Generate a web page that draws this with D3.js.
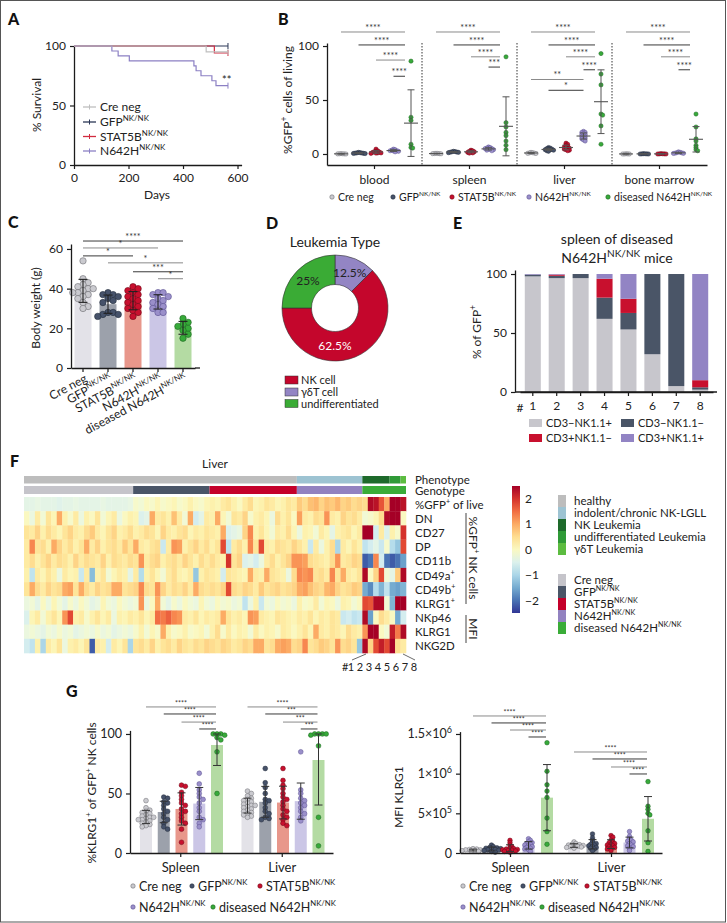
<!DOCTYPE html>
<html><head><meta charset="utf-8">
<script src="https://cdn.jsdelivr.net/npm/d3@7"></script>
<style>body{margin:0;background:#fff}svg{display:block}</style>
</head><body>
<script>
// ================= DATA =================
const genotypes = ["Cre neg","GFP","STAT5B","N642H","diseased N642H"];
const genoLabels = [["Cre neg"],["GFP","^NK/NK"],["STAT5B","^NK/NK"],["N642H","^NK/NK"],["diseased N642H","^NK/NK"]];

// A: Kaplan-Meier survival (days of events, % surviving after event)
const survCreDays=[0,485,565], survCrePct=[100,95,95];
const survGfpDays=[0,565], survGfpPct=[100,100];
const survStatDays=[0,515,565], survStatPct=[100,94.1,94.1];
const survMutDays=[0,139,162,203,440,448,466,506,521,565];
const survMutPct=[100,95.8,91.7,87.5,83.3,79.2,75,70.8,66.7,66.7];

// B: %GFP+ cells of living, per tissue, per genotype
const bTissues=["blood","spleen","liver","bone marrow"];
const bBlood=[[0.1,0.2,0,0.3,0.1,0.2],[0.5,1,0.8,1.2,0.6,0.9,1.5,0.4],[1,2,4.5,1.5,0.8,2.5,1,3,0.5,1.8],[3,2.5,4,3.5,2,4.5,3,2.8],[86,31,34,9,5.5,6]];
const bSpleen=[[0.3,0.5,0.2,0.4,0.6,0.3],[1.5,2,1.8,2.5,1.2,2.2,1.6],[1.5,2,3,1,2.5,0.8,1.8,3.5],[4,5,6,4.5,5.5,3.5,6.5,5,4.2,3],[90,29,25,20,17,12,8,4]];
const bLiver=[[1,0.5,1.5,0.8,1.2,0.6],[3,4,5,3.5,4.5,2.5,5.5,3.8,4.2,6],[4,6,8,10,5,3,7,5.5,9,4.5,6.5,3.5],[12,14,16,18,20,21,15,17,13,19,16,18,14,20],[93,74,64,36,37,26,9]];
const bMarrow=[[0,0.1,0,0.2,0],[0,0.1,0.2,0,0.1,0.3],[0,0.1,0.2,0.1,0,0.3],[0.5,1,1.5,0.8,1.2,2,0.6],[37,25,14,12,8,6,4,3]];
// significance: [tissue, fromGroup, toGroup, level value, label]
const bSig=[[0,0,4,113,"****"],[0,1,4,101,"****"],[0,2,4,87,"****"],[0,3,4,72,"****"],
 [1,0,4,113,"****"],[1,1,4,101,"****"],[1,2,4,90,"****"],[1,3,4,80.5,"***"],
 [2,0,4,113,"****"],[2,1,4,101,"****"],[2,2,4,90,"****"],[2,3,4,78,"****"],[2,0,3,69,"**"],[2,1,3,59,"*"],
 [3,0,4,113,"****"],[3,1,4,101,"****"],[3,2,4,90,"****"],[3,3,4,78,"****"]];

// C: body weight (g)
const cWeight=[[54,45,43,42,41,40,40,39,38,38,37,36,35,33,31,30],
 [38,37,37,36,35,34,33,28,28,27,27,26],
 [41,40,39,38,37,36,35,34,33,32,31,30,29,28,26],
 [38,38,37,36,35,34,33,32,31,30,28,28],
 [25,23,22,21,20,19,17,15]];
const cSig=[[0,4,64,"****"],[0,3,60.5,"*"],[0,2,56.5,"*"],[1,4,53,"*"],[2,4,48.5,"***"],[3,4,45,"*"]];

// D: leukemia type
const dTypes=["NK cell","γδT cell","undifferentiated"];
const dPercent=[62.5,12.5,25];

// E: spleen of diseased mice, % of GFP+
const eMice=["1","2","3","4","5","6","7","8"];
const eCats=["CD3−NK1.1+","CD3−NK1.1−","CD3+NK1.1−","CD3+NK1.1+"];
const eCD3negNK11pos=[98,96.5,96.5,62,53,32,5,2];
const eCD3negNK11neg=[1.5,2,3.5,18,14,68,95,2];
const eCD3posNK11neg=[0,1,0,16,12,0,0,6];
const eCD3posNK11pos=[0.5,0.5,0,4,21,0,0,90];

// F: heatmap (z-scores), columns: 20 Cre neg, 14 GFP, 16 STAT5B, 12 N642H, 8 diseased
const hmGenoCounts=[20,14,16,12,8];
const hmPhenoNames=["healthy","indolent/chronic NK-LGLL","NK Leukemia","undifferentiated Leukemia","γδT Leukemia"];
const hmPhenoCounts=[50,12,5,2,1];
const hmRowLabels=[["%GFP","^+"," of live"],["DN"],["CD27"],["DP"],["CD11b"],["CD49a","^+"],["CD49b","^+"],["KLRG1","^+"],["NKp46"],["KLRG1"],["NKG2D"]];
const hmGFPlive=[-.4,-.4,-.35,-.4,-.4,-.4,-.45,-.4,-.4,-.35,-.4,-.4,-.4,-.4,-.35,-.4,-.4,-.4,-.4,-.35,
 -.1,-.2,0,-.1,.1,-.1,0,.1,-.1,0,.2,0,-.1,.1, .2,.1,.3,.4,.2,0,.3,.5,.1,.2,.4,.3,.1,.2,.4,.3,
 .7,.5,.8,.9,.6,.8,.7,.9,.6,.7,.5,.6, .5,2.4,2.3,1.7,1.0,2.5,2.5,2.3];
const hmDN=[0,-.3,.3,-.2,.4,.1,1.0,.2,-.1,.3,-.3,.2,0,.4,-.2,.1,.3,-.3,0,.2,
 .1,-.5,-.4,1.0,.3,.4,.2,.8,.3,-.2,1.0,-.6,-.4,.3, .2,1.0,.1,-.2,.4,.3,.6,-.1,.2,.3,.1,-.3,.5,.2,.4,0,
 1.1,.3,.2,.5,.4,1.2,.3,.2,.6,.4,.5,.3, -.2,-.1,.1,.5,2.4,2.5,2.5,0];
const hmCD27=[.4,.3,.6,.2,.5,.3,.1,.4,.6,.3,.2,.5,.7,.3,.1,.4,.6,.2,.3,.5,
 .2,.3,.5,.4,.1,.6,.3,.2,.4,.5,.1,.3,.2,.4, .3,.2,1.0,-.5,-.4,-.3,.6,1.3,.2,.4,.1,-.2,.3,.2,.5,.1,
 -.3,.2,.1,-.2,.3,.1,-.4,.2,.3,.4,.1,.3, 2.5,2.5,-.6,.3,-.5,.2,-.1,2.0];
const hmDP=[.3,1.3,.4,.5,.2,1.0,.6,.3,.5,.2,.4,1.0,.3,.6,.2,.4,.5,.3,.7,.4,
 1.0,.3,.2,.4,.5,-.7,.3,1.2,1.1,.2,.4,.6,.3,.5, .2,.4,1.8,-.8,.3,.5,.2,1.3,.4,1.8,.3,.2,.5,.4,.3,.6,
 .4,.2,-.7,.3,-.3,.2,.5,-1.0,.3,.1,.4,.2, -.8,-.6,-.4,-.7,-.1,-.9,-1.2,1.8];
const hmCD11b=[.3,.5,.2,.4,.6,.3,.5,.4,.2,.6,.3,.5,.4,.3,.6,.2,.5,.4,.3,.5,
 .4,1.2,.3,.5,.6,.2,.4,.5,.3,.6,.4,.2,.5,.3, .5,.3,.2,2.0,.4,.6,-.5,-.4,-.6,-.3,.3,.5,.2,.4,.6,1.2,
 1.2,1.1,.5,.4,.3,.2,.5,1.2,.3,.4,.6,.5, -2.2,-2.0,1.3,-.6,-2.0,-2.2,-2.0,-1.6];
const hmCD49a=[.2,-.8,.3,.1,.4,.2,-.3,.3,.1,.2,-.7,.3,-1.3,.2,.4,-.2,.1,.3,.2,-.4,
 .3,-.9,.2,.4,.1,-.2,.3,.5,.2,.1,.3,-1.2,.2,.4, .3,.2,-.6,.4,.3,.2,.1,1.0,.3,.2,1.0,.4,.3,.2,-.3,.5,
 1.3,1.2,1.3,.4,.5,.3,1.3,.4,1.0,.3,.2,.4, 2.4,0,.6,1.8,-.2,-.4,.7,2.4];
const hmCD49b=[.4,1.0,.5,.3,.6,.4,.5,1.0,1.1,.4,1.0,.5,.3,.6,.4,.5,1.0,1.0,.4,.5,
 .6,1.3,.5,.4,1.2,.6,.3,.5,.4,.6,.3,1.0,.5,.4, .5,.4,.6,1.8,.5,.4,.6,.5,.3,.7,.4,.5,.6,.4,.5,.6,
 1.0,1.1,.8,.6,.5,.9,1.0,.6,.4,.5,.7,.6, -1.5,-1.8,-.9,-1.4,-.8,-1.5,-1.6,-1.4];
const hmKLRG1pos=[-.3,-.2,-.4,0,-.3,.1,-.2,-.4,-.1,-.3,0,-.2,-.4,-.3,.1,-.2,-.3,0,-.2,-.3,
 -.2,1.2,-.3,0,1.0,-.2,-.4,-.1,-.3,0,-.2,-.3,.1,-.2, -.3,0,-.2,-.1,-.3,-.2,-.8,-.3,.2,-.7,-.2,-.3,0,-.2,-.1,-.3,
 .2,-.1,0,.3,-.2,.1,0,-.3,.2,.1,-.2,0, 1.8,1.7,2.4,2.4,-.2,-1.4,2.5,2.5];
const hmNKp46=[-.5,.1,.3,-.2,.2,.4,.1,1.2,1.8,.2,.3,-.1,.2,.4,.1,.3,-.3,.2,.1,.3,
 .2,.4,.1,.3,1.5,1.4,1.6,1.3,1.2,.3,.2,.4,.1,.3, .2,.3,1.0,.4,.2,.3,.1,1.2,1.1,.3,.2,.1,.4,.3,.2,.1,
 .3,.2,.4,.1,.3,.2,.4,.3,-.7,-.6,-.8,-.7, 2.4,-1.6,0,.5,.3,0,-1.5,-.6];
const hmKLRG1mfi=[-.3,-.2,-.3,-.4,-.2,-.3,-.1,-.3,-.2,-.4,-.3,-.2,-.3,-.1,-.3,-.2,-.4,-.3,-.2,-.3,
 -.1,.2,-.2,.1,-.1,1.0,.2,-.1,0,.2,-.1,0,.1,-.2, .2,.5,-.1,.3,0,.2,.1,-.2,.3,0,.2,.1,-.1,.3,.2,0,
 .2,.4,.1,1.0,.3,.2,.4,.3,.1,.5,.3,.2, 1.2,2.5,2.5,0,-.2,2.2,1.4,2.4];
const hmNKG2D=[-.6,-.8,.2,-1.0,.3,.1,.4,-.3,.2,.3,.1,.4,-2.2,.3,.2,-.6,.3,.1,.4,-1.0,
 .4,.5,.3,.6,.2,.4,.5,.3,.6,.4,.3,.5,.4,.6, .5,.4,.6,.5,.3,.4,.6,.5,1.0,1.0,.4,.5,1.0,1.1,1.0,.5,
 .6,1.3,.4,.5,.7,.6,.4,1.2,.5,.6,.4,-1.2, 2.4,.6,1.8,2.2,1.8,2.5,.5,.3];
const hmMatrix=[hmGFPlive,hmDN,hmCD27,hmDP,hmCD11b,hmCD49a,hmCD49b,hmKLRG1pos,hmNKp46,hmKLRG1mfi,hmNKG2D];

// G: %KLRG1+ of GFP+ NK cells and MFI KLRG1
const gOrgans=["Spleen","Liver"];
const gKlrgSpleen=[[44,38,36,35,34,33,32,31,30,30,29,28,28,27,26,25,24,23,22],
 [47,46,43,42,40,37,35,33,30,28,25,22,20],
 [57,56,51,48,45,42,40,37,35,33,30,27,25,20,9],
 [67,58,53,50,47,45,42,38,35,30,28,25,22],
 [100,100,100,99,97,95,85,50]];
const gKlrgLiver=[[52,50,48,46,45,44,43,42,41,40,40,39,38,37,36,35,34,33,32,31,30],
 [71,59,55,50,45,44,42,38,35,33,30,29,28],
 [71,61,57,54,50,47,45,43,40,37,35,32,30,28,25,23],
 [85,53,50,46,44,42,40,38,35,33,30,27],
 [100,100,100,100,99,90,30,6]];
const gKlrgSig=[[0,0,122.7,"****"],[0,1,116.8,"****"],[0,2,110,"****"],[0,3,104.2,"****"],
 [1,0,122.7,"****"],[1,1,116.8,"***"],[1,2,110,"***"],[1,3,104.2,"***"]];
const gMfiSpleen=[[20000,25000,30000,35000,40000,45000,50000,55000,30000,40000],
 [10000,20000,30000,40000,50000,60000,70000,80000,100000,35000,45000,55000,65000],
 [10000,20000,30000,40000,50000,60000,80000,100000,130000,160000,45000,55000,35000,25000],
 [20000,40000,60000,80000,100000,120000,140000,160000,180000,70000,90000,110000,50000,130000],
 [1390000,1030000,860000,780000,700000,440000,270000,110000]];
const gMfiLiver=[[60000,70000,80000,90000,100000,110000,120000,140000,85000,95000,75000,105000],
 [30000,50000,70000,90000,110000,130000,160000,190000,240000,80000,100000,120000,60000],
 [30000,50000,70000,90000,110000,130000,160000,200000,220000,80000,100000,120000,60000,140000],
 [30000,60000,90000,120000,150000,180000,210000,270000,100000,140000,80000,160000],
 [900000,590000,550000,500000,480000,280000,130000,20000]];
const gMfiSig=[[0,0,1727000,"****"],[0,1,1639000,"****"],[0,2,1550000,"****"],[0,3,1462000,"****"],
 [1,0,1273000,"****"],[1,1,1185000,"****"],[1,2,1084000,"****"],[1,3,996000,"****"]];

// ================= STYLE =================
const FF="Lato, 'Open Sans', sans-serif";
const ptFill=["#cacacf","#46526a","#c8102e","#9a8fca","#37aa3a"];
const ptStroke=["#6d6d72","#222b3a","#6e0818","#5b5190","#1c6320"];
const barFill=["#e3e2e8","#9ca1ab","#e8978b","#cbc6e6","#b4dba3"];
const survCol=["#bfbfbf","#2b3756","#d22b40","#8c80c4"];
const eCol=["#c7c6cc","#4a5567","#c8102e","#9284c4"];
const dCol={"NK cell":"#c4062c","γδT cell":"#9385c4","undifferentiated":"#3aab35"};
const phenoCol=["#bdbdbd","#9dc3d2","#1e6a2b","#2f9a37","#5cbc40"];
const genoCol=["#c5c4ca","#4a5567","#c4002a","#9282c0","#3aac38"];

const svg=d3.select("body").append("svg").attr("width",727).attr("height",923).attr("font-family",FF);
svg.append("rect").attr("x",0.5).attr("y",0.5).attr("width",725).attr("height",921.5).attr("fill","#fff").attr("stroke","#555").attr("stroke-width",1);

function addText(g,x,y,parts,o={}){
  const fs=o.fs||12, ss=o.sup||0.72;
  const t=g.append("text").attr("font-size",fs).attr("fill",o.fill||"#222").attr("text-anchor",o.anchor||"start");
  if(o.rot!==undefined) t.attr("transform",`translate(${x},${y}) rotate(${o.rot})`); else t.attr("x",x).attr("y",y);
  if(o.weight) t.attr("font-weight",o.weight);
  if(typeof parts==="string") parts=[parts];
  let up=false;
  parts.forEach(p=>{
    if(p[0]==="^"){t.append("tspan").attr("dy",-fs*0.42).attr("font-size",fs*ss).text(p.slice(1));up=true;}
    else{const s=t.append("tspan").text(p);if(up){s.attr("dy",fs*0.42);up=false;}}
  });
  return t;
}
function styleAxis(g,fs){
  g.attr("font-family",FF).attr("font-size",fs);
  g.select(".domain").attr("stroke","#1b1b1b").attr("stroke-width",1.3);
  g.selectAll(".tick line").attr("stroke","#1b1b1b").attr("stroke-width",1.2);
  g.selectAll(".tick text").attr("fill","#222");
}
function swarm(vals,y,cx,r,sep){
  const placed=[];
  const pts=vals.map(v=>({v,y:y(v)})).sort((a,b)=>a.y-b.y);
  for(const p of pts){
    let k=0,x=cx;
    while(k<60){
      const off=k===0?0:Math.ceil(k/2)*(k%2?1:-1)*r*0.8;
      x=cx+off;
      if(placed.every(q=>(q.x-x)**2+(q.y-p.y)**2>=(2*r*sep)**2)) break;
      k++;
    }
    placed.push({x,y:p.y});
  }
  return placed;
}
function drawPts(g,vals,y,cx,r,gi,sw,sep){
  swarm(vals,y,cx,r,sep).forEach(p=>g.append("circle").attr("cx",p.x).attr("cy",p.y).attr("r",r)
    .attr("fill",ptFill[gi]).attr("stroke",ptStroke[gi]).attr("stroke-width",sw));
}
function errBar(g,x,y0,y1,cap,col,sw=1.1){
  g.append("line").attr("x1",x).attr("x2",x).attr("y1",y0).attr("y2",y1).attr("stroke",col).attr("stroke-width",sw);
  [y0,y1].forEach(yy=>g.append("line").attr("x1",x-cap/2).attr("x2",x+cap/2).attr("y1",yy).attr("y2",yy).attr("stroke",col).attr("stroke-width",sw));
}
function sigLine(g,x1,x2,yy,label,col,fs=9){
  g.append("line").attr("x1",x1).attr("x2",x2).attr("y1",yy).attr("y2",yy).attr("stroke",col).attr("stroke-width",1);
  g.append("text").attr("x",(x1+x2)/2).attr("y",yy-1.2).attr("text-anchor","middle").attr("font-size",fs).attr("fill","#333").text(label);
}
function panelLetter(x,y,l){addText(svg,x,y,l,{fs:16,weight:900,fill:"#111"});}
function legendDot(g,x,y,gi,parts,fs){
  g.append("circle").attr("cx",x).attr("cy",y).attr("r",2.2).attr("fill",ptFill[gi]).attr("stroke",ptStroke[gi]).attr("stroke-width",0.6);
  addText(g,x+6,y+fs*0.36,parts,{fs,sup:0.62});
}

// ================= PANEL A =================
{
  const g=svg.append("g");
  panelLetter(8,25,"A");
  const x=d3.scaleLinear([0,615],[74,241.6]);
  const y=d3.scaleLinear([0,100],[165,46]);
  const ax=g.append("g").attr("transform","translate(0,165)").call(d3.axisBottom(x).tickValues([0,200,400,600]).tickSize(4).tickSizeOuter(0).tickPadding(4));
  styleAxis(ax,12);
  const ay=g.append("g").attr("transform","translate(74,0)").call(d3.axisLeft(y).tickValues([0,50,100]).tickSize(4).tickSizeOuter(0).tickPadding(4));
  styleAxis(ay,12);
  const curves=[[survGfpDays,survGfpPct,1],[survStatDays,survStatPct,2],[survMutDays,survMutPct,3],[survCreDays,survCrePct,0]];
  const line=d3.line().x(d=>x(d[0])).y(d=>y(d[1])).curve(d3.curveStepAfter);
  curves.forEach(([dd,pp,ci])=>{
    const pts=dd.map((d,i)=>[d,pp[i]]);
    g.append("path").attr("d",line(pts)).attr("fill","none").attr("stroke",survCol[ci]).attr("stroke-width",1.2);
    const last=pts[pts.length-1];
    g.append("line").attr("x1",x(last[0])).attr("x2",x(last[0])).attr("y1",y(last[1])-3).attr("y2",y(last[1])+3).attr("stroke",survCol[ci]).attr("stroke-width",1);
  });
  addText(g,222,84,"**",{fs:11});
  addText(g,157,199,"Days",{fs:12,anchor:"middle"});
  addText(g,41,105,"% Survival",{fs:12,anchor:"middle",rot:-90});
  const ly=[107,122,136.5,151];
  [0,1,2,3].forEach(i=>{
    g.append("line").attr("x1",83).attr("x2",96).attr("y1",ly[i]).attr("y2",ly[i]).attr("stroke",survCol[i]).attr("stroke-width",1.3);
    g.append("line").attr("x1",89.5).attr("x2",89.5).attr("y1",ly[i]-2.5).attr("y2",ly[i]+2.5).attr("stroke",survCol[i]).attr("stroke-width",1);
    addText(g,100,ly[i]+4.3,genoLabels[i],{fs:12,sup:0.66});
  });
}

// ================= PANEL B =================
{
  const g=svg.append("g");
  panelLetter(278,25,"B");
  const bData=[bBlood,bSpleen,bLiver,bMarrow];
  const x=d3.scaleBand(bTissues,[327,707]);
  const xs=d3.scalePoint(d3.range(5),[14,84]);
  const y=d3.scaleLinear([-10.2,102.8],[165,43]);
  const ay=g.append("g").attr("transform","translate(327,0)").call(d3.axisLeft(y).tickValues([0,50,100]).tickSize(4).tickSizeOuter(0).tickPadding(4));
  styleAxis(ay,12);
  const ax=g.append("g").attr("transform","translate(0,165)").call(d3.axisBottom(x).tickSize(4).tickSizeOuter(0).tickPadding(6));
  styleAxis(ax,12);
  bTissues.slice(1).forEach(t=>g.append("line").attr("x1",x(t)).attr("x2",x(t)).attr("y1",43).attr("y2",165).attr("stroke","#333").attr("stroke-width",1).attr("stroke-dasharray","1.5,1.5"));
  bData.forEach((groups,ti)=>{
    groups.forEach((vals,gi)=>{
      const cx=x(bTissues[ti])+xs(gi);
      const m=d3.mean(vals),sd=d3.deviation(vals);
      drawPts(g,vals,y,cx,2.1,gi,0.5,0.4);
      errBar(g,cx,y(m-sd),y(m+sd),7,"#555",1);
      g.append("line").attr("x1",cx-7).attr("x2",cx+7).attr("y1",y(m)).attr("y2",y(m)).attr("stroke","#555").attr("stroke-width",1.1);
    });
  });
  const cnt={};
  bSig.forEach(([ti,f,t,v,l])=>{
    cnt[ti]=(cnt[ti]||0)+1;
    const x0=x(bTissues[ti]);
    const x1=x0+xs(f), x2=t===4?x0+xs(4)-6:x0+xs(t);
    sigLine(g,x1,x2,y(v),l,cnt[ti]%2?"#8a8a8a":"#3a3a3a",9);
  });
  const lx=[332,393,452,529,608];
  lx.forEach((xx,i)=>legendDot(g,xx,197,i,genoLabels[i],10.5));
  addText(g,292,100,["%GFP","^+"," cells of living"],{fs:12,anchor:"middle",rot:-90});
}

// ================= PANEL C =================
{
  const g=svg.append("g");
  panelLetter(8,228,"C");
  const x=d3.scaleBand(genotypes,[71,195]).paddingInner(0.32).paddingOuter(0.14);
  const y=d3.scaleLinear([0,62.5],[368,244]);
  cWeight.forEach((vals,gi)=>{
    const cx=x(genotypes[gi])+x.bandwidth()/2;
    const m=d3.mean(vals),sd=d3.deviation(vals);
    g.append("rect").attr("x",x(genotypes[gi])).attr("width",x.bandwidth()).attr("y",y(m)).attr("height",y(0)-y(m)).attr("fill",barFill[gi]);
    drawPts(g,vals,y,cx,3.2,gi,0.6,0.78);
    errBar(g,cx,y(m-sd),y(m+sd),9,"#222",1.1);
  });
  const ay=g.append("g").attr("transform","translate(71,0)").call(d3.axisLeft(y).tickValues([0,20,40,60]).tickSize(4).tickSizeOuter(0).tickPadding(4));
  styleAxis(ay,12);
  const ax=g.append("g").attr("transform","translate(0,368)").call(d3.axisBottom(x).tickSize(4).tickSizeOuter(0).tickFormat(()=>""));
  styleAxis(ax,12);
  g.append("line").attr("x1",195).attr("x2",200).attr("y1",368).attr("y2",368).attr("stroke","#1b1b1b").attr("stroke-width",1.3);
  genotypes.forEach((gn,i)=>{
    const cx=x(gn)+x.bandwidth()/2;
    addText(g,cx+5,381,genoLabels[i],{fs:12,anchor:"end",rot:-28,sup:0.66});
  });
  cSig.forEach(([f,t,v,l],i)=>{
    const x1=x(genotypes[f])+x.bandwidth()/2, x2=x(genotypes[t])+x.bandwidth()/2;
    sigLine(g,x1,x2,y(v),l,i%2?"#8a8a8a":"#3a3a3a",9);
  });
  addText(g,40,308,"Body weight (g)",{fs:12,anchor:"middle",rot:-90});
}

// ================= PANEL D =================
{
  const g=svg.append("g");
  panelLetter(266,229,"D");
  addText(g,335,247,"Leukemia Type",{fs:14,anchor:"middle"});
  const order=[1,0,2];
  const pieData=d3.pie().sort(null).value(d=>dPercent[d])(order);
  const arc=d3.arc().innerRadius(23.5).outerRadius(53);
  const cg=g.append("g").attr("transform","translate(335,308)");
  cg.selectAll("path").data(pieData).join("path").attr("d",arc).attr("fill",d=>dCol[dTypes[d.data]]).attr("stroke","#333").attr("stroke-width",0.6);
  pieData.forEach(d=>{
    const c=arc.centroid(d);
    const nk=dTypes[d.data]==="NK cell";
    addText(cg,nk?0:c[0],(nk?38:c[1])+4,dPercent[d.data]+"%",{fs:12,anchor:"middle",fill:nk?"#fff":"#222"});
  });
  const ly=[380,392,403.5];
  dTypes.forEach((t,i)=>{
    g.append("rect").attr("x",285).attr("y",ly[i]-4).attr("width",13).attr("height",8).attr("fill",dCol[t]).attr("stroke","#333").attr("stroke-width",0.5);
    addText(g,301,ly[i]+4,t,{fs:11});
  });
}

// ================= PANEL E =================
{
  const g=svg.append("g");
  panelLetter(453,229,"E");
  addText(g,617,244,"spleen of diseased",{fs:14,anchor:"middle"});
  addText(g,617,263,["N642H","^NK/NK"," mice"],{fs:14,anchor:"middle"});
  const x=d3.scaleBand(eMice,[520,713]).paddingInner(0.33).paddingOuter(0.2);
  const y=d3.scaleLinear([0,103.4],[392,270]);
  const rows=eMice.map((m,i)=>({m,a:eCD3negNK11pos[i],b:eCD3negNK11neg[i],c:eCD3posNK11neg[i],d:eCD3posNK11pos[i]}));
  const st=d3.stack().keys(["a","b","c","d"])(rows);
  st.forEach((s,si)=>{
    g.selectAll(null).data(s).join("rect").attr("x",d=>x(d.data.m)).attr("width",x.bandwidth())
      .attr("y",d=>y(d[1])).attr("height",d=>y(d[0])-y(d[1])).attr("fill",eCol[si]);
  });
  const ay=g.append("g").attr("transform","translate(515,0)").call(d3.axisLeft(y).tickValues([0,50,100]).tickSize(4).tickSizeOuter(0).tickPadding(4));
  styleAxis(ay,12);
  const ax=g.append("g").attr("transform","translate(0,392)").call(d3.axisBottom(x).tickSize(4).tickSizeOuter(0).tickPadding(5));
  styleAxis(ax,12);
  g.append("line").attr("x1",515).attr("x2",717).attr("y1",392).attr("y2",392).attr("stroke","#1b1b1b").attr("stroke-width",1.3);
  addText(g,520,412,"#",{fs:12,anchor:"middle"});
  addText(g,481,332,["% of GFP","^+"],{fs:12,anchor:"middle",rot:-90});
  const lp=[[529,423],[621,423],[529,438],[621,438]];
  eCats.forEach((c,i)=>{
    g.append("rect").attr("x",lp[i][0]).attr("y",lp[i][1]-4).attr("width",13).attr("height",8).attr("fill",eCol[i]);
    addText(g,lp[i][0]+17,lp[i][1]+4,c,{fs:11});
  });
}

// ================= PANEL F =================
{
  const g=svg.append("g");
  panelLetter(10,467,"F");
  addText(g,215,468,"Liver",{fs:12,anchor:"middle"});
  const nCol=d3.sum(hmGenoCounts);
  const x=d3.scaleBand(d3.range(nCol),[24,406]);
  const y=d3.scaleBand(d3.range(hmMatrix.length),[497,653]);
  const color=d3.scaleSequential(t=>d3.interpolateRdYlBu(1-t)).domain([-2.5,2.5]);
  let c0=0;
  hmPhenoCounts.forEach((n,i)=>{g.append("rect").attr("x",x(c0)).attr("width",x.step()*n).attr("y",476).attr("height",7.5).attr("fill",phenoCol[i]);c0+=n;});
  c0=0;
  hmGenoCounts.forEach((n,i)=>{g.append("rect").attr("x",x(c0)).attr("width",x.step()*n).attr("y",486).attr("height",8).attr("fill",genoCol[i]);c0+=n;});
  hmMatrix.forEach((row,ri)=>{
    row.forEach((v,ci)=>g.append("rect").attr("x",x(ci)).attr("y",y(ri)).attr("width",x.bandwidth()+0.3).attr("height",y.bandwidth()+0.3).attr("fill",color(v)));
  });
  addText(g,415,483.5,"Phenotype",{fs:11.5});
  addText(g,415,495,"Genotype",{fs:11.5});
  hmRowLabels.forEach((l,i)=>addText(g,415,y(i)+y.bandwidth()/2+4.5,l,{fs:11.5,sup:0.62}));
  g.append("line").attr("x1",466).attr("x2",466).attr("y1",513).attr("y2",604).attr("stroke","#444").attr("stroke-width",1);
  g.append("line").attr("x1",466).attr("x2",466).attr("y1",615).attr("y2",643).attr("stroke","#444").attr("stroke-width",1);
  addText(g,469,558,["%GFP","^+"," NK cells"],{fs:12,anchor:"middle",rot:90,sup:0.62});
  addText(g,469,629,"MFI",{fs:12,anchor:"middle",rot:90});
  g.append("line").attr("x1",366).attr("x2",352).attr("y1",654).attr("y2",660).attr("stroke","#444").attr("stroke-width",0.8);
  g.append("line").attr("x1",403).attr("x2",415).attr("y1",654).attr("y2",660).attr("stroke","#444").attr("stroke-width",0.8);
  addText(g,342,671,"#",{fs:11});
  eMice.forEach((m,i)=>addText(g,351+9*i,671,m,{fs:11,anchor:"middle"}));
  const defs=svg.append("defs");
  const lg=defs.append("linearGradient").attr("id","cb").attr("x1",0).attr("x2",0).attr("y1",1).attr("y2",0);
  d3.range(0,1.0001,0.1).forEach(t=>lg.append("stop").attr("offset",t).attr("stop-color",color(-2.5+5*t)));
  const cy=d3.scaleLinear([-2.5,2.5],[613,486]);
  g.append("rect").attr("x",512).attr("y",486).attr("width",8).attr("height",127).attr("fill","url(#cb)");
  [2,1,0,-1,-2].forEach(v=>addText(g,525,cy(v)+4.3,v<0?"−"+Math.abs(v):String(v),{fs:12}));
  hmPhenoNames.forEach((n,i)=>{
    const yy=495+12*i;
    g.append("rect").attr("x",558).attr("y",yy).attr("width",8).attr("height",12).attr("fill",phenoCol[i]);
    addText(g,574,yy+10,n,{fs:11.5});
  });
  genoLabels.forEach((l,i)=>{
    const yy=574+12*i;
    g.append("rect").attr("x",558).attr("y",yy).attr("width",8).attr("height",12).attr("fill",genoCol[i]);
    addText(g,574,yy+10,l,{fs:11.5,sup:0.62});
  });
}

// ================= PANEL G =================
function panelG(g,data2,x0,x1,y,sub,ticks,tickFmt,sig,ptR,clamp,sep){
  const x=d3.scaleBand(gOrgans,[x0,x1]);
  data2.forEach((groups,oi)=>{
    groups.forEach((vals,gi)=>{
      const cx=x(gOrgans[oi])+sub(gi);
      const m=d3.mean(vals),sd=d3.deviation(vals);
      g.append("rect").attr("x",cx-6).attr("width",12).attr("y",y(m)).attr("height",y(0)-y(m)).attr("fill",barFill[gi]);
      drawPts(g,vals,y,cx,ptR,gi,0.5,sep);
      const top=clamp?Math.min(m+sd,clamp):m+sd, bot=Math.max(m-sd,0);
      errBar(g,cx,y(bot),y(top),8,"#333",1);
    });
  });
  const ay=g.append("g").attr("transform",`translate(${x0},0)`).call(d3.axisLeft(y).tickValues(ticks).tickSize(4).tickSizeOuter(0).tickPadding(4));
  styleAxis(ay,12.5);
  if(tickFmt) ay.selectAll(".tick text").each(function(d){tickFmt(d3.select(this),d);});
  const ax=g.append("g").attr("transform","translate(0,853)").call(d3.axisBottom(x).tickSize(4).tickSizeOuter(0).tickPadding(6));
  styleAxis(ax,13);
  sig.forEach(([oi,f,v,l],i)=>{
    const b=x(gOrgans[oi]);
    sigLine(g,b+sub(f),b+sub(4)-1,y(v),l,i%2?"#3a3a3a":"#8a8a8a",7);
  });
}
{
  const g=svg.append("g");
  panelLetter(66,697,"G");
  const y=d3.scaleLinear([0,103],[853,730.4]);
  panelG(g,[gKlrgSpleen,gKlrgLiver],130,333,y,d3.scalePoint(d3.range(5),[16,87]),[0,50,100],null,gKlrgSig,2.4,100,0.72);
  addText(g,96,793,["%KLRG1","^+"," of GFP","^+"," NK cells"],{fs:12,anchor:"middle",rot:-90,sup:0.62});
  legendDot(g,133,886,0,genoLabels[0],12.5);
  legendDot(g,192,886,1,genoLabels[1],12.5);
  legendDot(g,260,886,2,genoLabels[2],12.5);
  legendDot(g,133,907,3,genoLabels[3],12.5);
  legendDot(g,213,907,4,genoLabels[4],12.5);
}
{
  const g=svg.append("g");
  const y=d3.scaleLinear([0,1.53e6],[853,731.6]);
  const fmt=(t,d)=>{
    t.text("");
    if(d===0){t.text("0");return;}
    const e=Math.floor(Math.log10(d)), m=d/Math.pow(10,e);
    t.append("tspan").text((+m.toFixed(1))+"×10");
    t.append("tspan").attr("dy",-5).attr("font-size",9).text(e);
  };
  panelG(g,[gMfiSpleen,gMfiLiver],460,662,y,d3.scalePoint(d3.range(5),[13,87]),[0,5e5,1e6,1.5e6],fmt,gMfiSig,2.3,null,0.5);
  addText(g,403,797,"MFI KLRG1",{fs:12,anchor:"middle",rot:-90});
  legendDot(g,463,886,0,genoLabels[0],12.5);
  legendDot(g,523,886,1,genoLabels[1],12.5);
  legendDot(g,587,886,2,genoLabels[2],12.5);
  legendDot(g,463,907,3,genoLabels[3],12.5);
  legendDot(g,542,907,4,genoLabels[4],12.5);
}
</script>
</body></html>
